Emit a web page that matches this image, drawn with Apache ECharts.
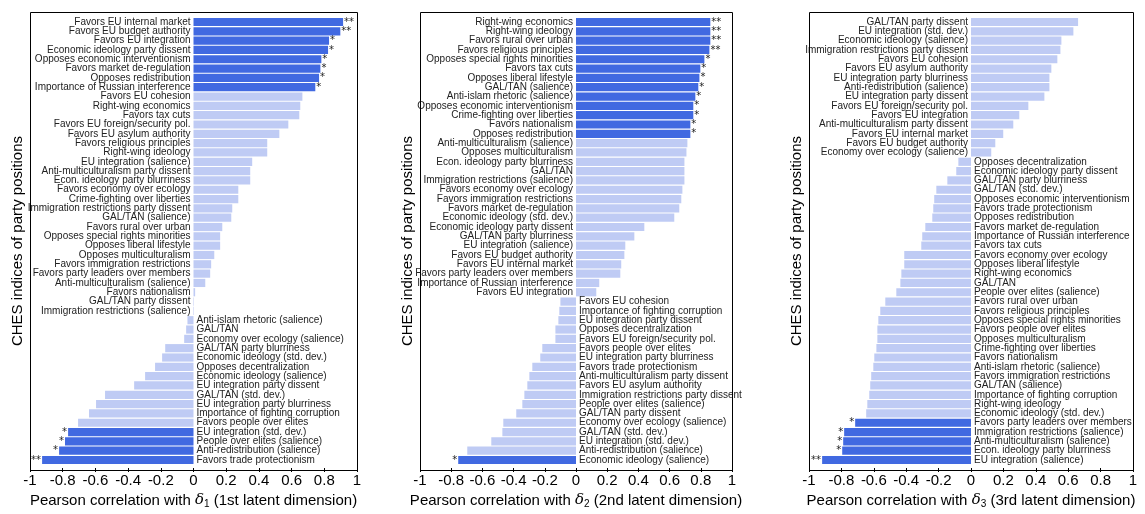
<!DOCTYPE html>
<html><head><meta charset="utf-8">
<script src="https://cdn.jsdelivr.net/npm/echarts@6/dist/echarts.min.js"></script>
<style>html,body{margin:0;padding:0;background:#fff}#c{width:1145px;height:514px}</style>
</head><body><div id="c"></div>
<script>
// ---------- Panel 1 (delta 1) ----------
const p1Names = ["Favors EU internal market","Favors EU budget authority","Favors EU integration","Economic ideology party dissent","Opposes economic interventionism","Favors market de-regulation","Opposes redistribution","Importance of Russian interference","Favors EU cohesion","Right-wing economics","Favors tax cuts","Favors EU foreign/security pol.","Favors EU asylum authority","Favors religious principles","Right-wing ideology","EU integration (salience)","Anti-multiculturalism party dissent","Econ. ideology party blurriness","Favors economy over ecology","Crime-fighting over liberties","Immigration restrictions party dissent","GAL/TAN (salience)","Favors rural over urban","Opposes special rights minorities","Opposes liberal lifestyle","Opposes multiculturalism","Favors immigration restrictions","Favors party leaders over members","Anti-multiculturalism (salience)","Favors nationalism","GAL/TAN party dissent","Immigration restrictions (salience)","Anti-islam rhetoric (salience)","GAL/TAN","Economy over ecology (salience)","GAL/TAN party blurriness","Economic ideology (std. dev.)","Opposes decentralization","Economic ideology (salience)","EU integration party dissent","GAL/TAN (std. dev.)","EU integration party blurriness","Importance of fighting corruption","Favors people over elites","EU integration (std. dev.)","People over elites (salience)","Anti-redistribution (salience)","Favors trade protectionism"];
const p1Values = [0.915,0.898,0.829,0.823,0.782,0.776,0.768,0.745,0.666,0.653,0.647,0.58,0.525,0.451,0.451,0.359,0.347,0.347,0.274,0.274,0.237,0.231,0.176,0.163,0.163,0.127,0.108,0.102,0.072,0.01,0.003,0.003,-0.037,-0.045,-0.057,-0.173,-0.192,-0.235,-0.296,-0.363,-0.541,-0.596,-0.639,-0.706,-0.767,-0.786,-0.822,-0.926];
const p1Stars = ["**","**","*","*","*","*","*","*","","","","","","","","","","","","","","","","","","","","","","","","","","","","","","","","","","","","","*","*","*","**"];

// ---------- Panel 2 (delta 2) ----------
const p2Names = ["Right-wing economics","Right-wing ideology","Favors rural over urban","Favors religious principles","Opposes special rights minorities","Favors tax cuts","Opposes liberal lifestyle","GAL/TAN (salience)","Anti-islam rhetoric (salience)","Opposes economic interventionism","Crime-fighting over liberties","Favors nationalism","Opposes redistribution","Anti-multiculturalism (salience)","Opposes multiculturalism","Econ. ideology party blurriness","GAL/TAN","Immigration restrictions (salience)","Favors economy over ecology","Favors immigration restrictions","Favors market de-regulation","Economic ideology (std. dev.)","Economic ideology party dissent","GAL/TAN party blurriness","EU integration (salience)","Favors EU budget authority","Favors EU internal market","Favors party leaders over members","Importance of Russian interference","Favors EU integration","Favors EU cohesion","Importance of fighting corruption","EU integration party dissent","Opposes decentralization","Favors EU foreign/security pol.","Favors people over elites","EU integration party blurriness","Favors trade protectionism","Anti-multiculturalism party dissent","Favors EU asylum authority","Immigration restrictions party dissent","People over elites (salience)","GAL/TAN party dissent","Economy over ecology (salience)","GAL/TAN (std. dev.)","EU integration (std. dev.)","Anti-redistribution (salience)","Economic ideology (salience)"];
const p2Values = [0.861,0.861,0.861,0.855,0.823,0.797,0.791,0.784,0.765,0.752,0.752,0.733,0.733,0.714,0.708,0.695,0.695,0.695,0.682,0.675,0.662,0.63,0.438,0.374,0.316,0.31,0.29,0.284,0.149,0.13,-0.1,-0.107,-0.113,-0.132,-0.132,-0.216,-0.229,-0.28,-0.299,-0.312,-0.331,-0.344,-0.383,-0.466,-0.472,-0.543,-0.697,-0.755];
const p2Stars = ["**","**","**","**","*","*","*","*","*","*","*","*","*","","","","","","","","","","","","","","","","","","","","","","","","","","","","","","","","","","","*"];

// ---------- Panel 3 (delta 3) ----------
const p3Names = ["GAL/TAN party dissent","EU integration (std. dev.)","Economic ideology (salience)","Immigration restrictions party dissent","Favors EU cohesion","Favors EU asylum authority","EU integration party blurriness","Anti-redistribution (salience)","EU integration party dissent","Favors EU foreign/security pol.","Favors EU integration","Anti-multiculturalism party dissent","Favors EU internal market","Favors EU budget authority","Economy over ecology (salience)","Opposes decentralization","Economic ideology party dissent","GAL/TAN party blurriness","GAL/TAN (std. dev.)","Opposes economic interventionism","Favors trade protectionism","Opposes redistribution","Favors market de-regulation","Importance of Russian interference","Favors tax cuts","Favors economy over ecology","Opposes liberal lifestyle","Right-wing economics","GAL/TAN","People over elites (salience)","Favors rural over urban","Favors religious principles","Opposes special rights minorities","Favors people over elites","Opposes multiculturalism","Crime-fighting over liberties","Favors nationalism","Anti-islam rhetoric (salience)","Favors immigration restrictions","GAL/TAN (salience)","Importance of fighting corruption","Right-wing ideology","Economic ideology (std. dev.)","Favors party leaders over members","Immigration restrictions (salience)","Anti-multiculturalism (salience)","Econ. ideology party blurriness","EU integration (salience)"];
const p3Values = [0.661,0.632,0.558,0.552,0.533,0.496,0.484,0.484,0.453,0.354,0.298,0.261,0.199,0.15,0.125,-0.078,-0.091,-0.146,-0.214,-0.227,-0.233,-0.239,-0.282,-0.301,-0.307,-0.412,-0.412,-0.43,-0.436,-0.461,-0.529,-0.56,-0.572,-0.578,-0.578,-0.584,-0.597,-0.603,-0.616,-0.622,-0.628,-0.64,-0.647,-0.715,-0.783,-0.789,-0.795,-0.919];
const p3Stars = ["","","","","","","","","","","","","","","","","","","","","","","","","","","","","","","","","","","","","","","","","","","","*","*","*","*","**"];

const xTicks = { min: -1, max: 1, interval: 0.2 };
const xTitles = ["1st latent dimension","2nd latent dimension","3rd latent dimension"];
const yTitle = "CHES indices of party positions";

const panels = [
  {names:p1Names, values:p1Values, stars:p1Stars, left:30, right:357},
  {names:p2Names, values:p2Values, stars:p2Stars, left:420, right:732},
  {names:p3Names, values:p3Values, stars:p3Stars, left:809, right:1133}
];
const DARK = '#4169e1', LIGHT = '#bfcbf4';
const FONT = 'Liberation Sans';
const boxTop = 12, boxBottom = 470;
const firstCenter = 22, lastCenter = 462;

const grids = [], xAxes = [], yAxes = [], series = [], graphics = [];
panels.forEach((p, i) => {
  const n = p.names.length;
  const band = (lastCenter - firstCenter) / (n - 1);
  const gTop = firstCenter - band / 2;
  const gBot = lastCenter + band / 2;
  grids.push({left: p.left, top: gTop, width: p.right - p.left, height: gBot - gTop});
  graphics.push({type:'rect', silent:true, shape:{x:p.left+0.5, y:boxTop+0.5, width:p.right-p.left, height:boxBottom-boxTop},
    style:{fill:'none', stroke:'#000', lineWidth:1}, z:100});
  xAxes.push({
    gridIndex:i, type:'value', min:xTicks.min, max:xTicks.max, interval:xTicks.interval,
    offset: boxBottom - gBot,
    axisLine:{show:false}, splitLine:{show:false},
    axisTick:{show:true, length:4, lineStyle:{color:'#000'}},
    axisLabel:{fontSize:15, color:'#000', fontFamily:FONT, margin:5,
      formatter: v => String(Math.round(v*10)/10)},
    name: '{a|Pearson correlation with }{d|δ}{s|' + (i+1) + '}{a| (' + xTitles[i] + ')}',
    nameLocation:'middle', nameGap:24,
    nameTextStyle:{rich:{
      a:{fontSize:15, fontFamily:FONT, color:'#000'},
      d:{fontSize:15, fontFamily:'DejaVu Serif', fontStyle:'italic', color:'#000'},
      s:{fontSize:10, fontFamily:FONT, color:'#000', padding:[7,0,0,0]}
    }}
  });
  yAxes.push({
    gridIndex:i, type:'category', inverse:true, data:p.names,
    axisLine:{show:false}, axisTick:{show:false}, axisLabel:{show:false}, splitLine:{show:false},
    name: yTitle, nameLocation:'middle', nameGap:5,
    nameTextStyle:{fontSize:15, fontFamily:FONT, color:'#000'}
  });
  series.push({
    type:'bar', xAxisIndex:i, yAxisIndex:i, barCategoryGap:'12%', silent:true, animation:false,
    data: p.values.map((v, j) => ({value:v, itemStyle:{color: p.stars[j] ? DARK : LIGHT},
      label:{position: v >= 0 ? 'left' : 'right'}})),
    label:{show:true, distance:3, fontSize:10, fontFamily:FONT, color:'#222',
      formatter: q => p.names[q.dataIndex]}
  });
  series.push({
    type:'bar', xAxisIndex:i, yAxisIndex:i, barCategoryGap:'12%', barGap:'-100%', silent:true, animation:false,
    itemStyle:{color:'rgba(0,0,0,0)'},
    data: p.values.map((v, j) => ({value:v, label:{position: v >= 0 ? 'right' : 'left'}})),
    label:{show:true, distance:1, fontSize:10, fontFamily:'DejaVu Sans', color:'#222',
      formatter: q => p.stars[q.dataIndex]}
  });
});

const chart = echarts.init(document.getElementById('c'), null, {renderer:'canvas'});
chart.setOption({animation:false, backgroundColor:'#fff', grid:grids, xAxis:xAxes, yAxis:yAxes, series:series, graphic:graphics});
</script></body></html>
